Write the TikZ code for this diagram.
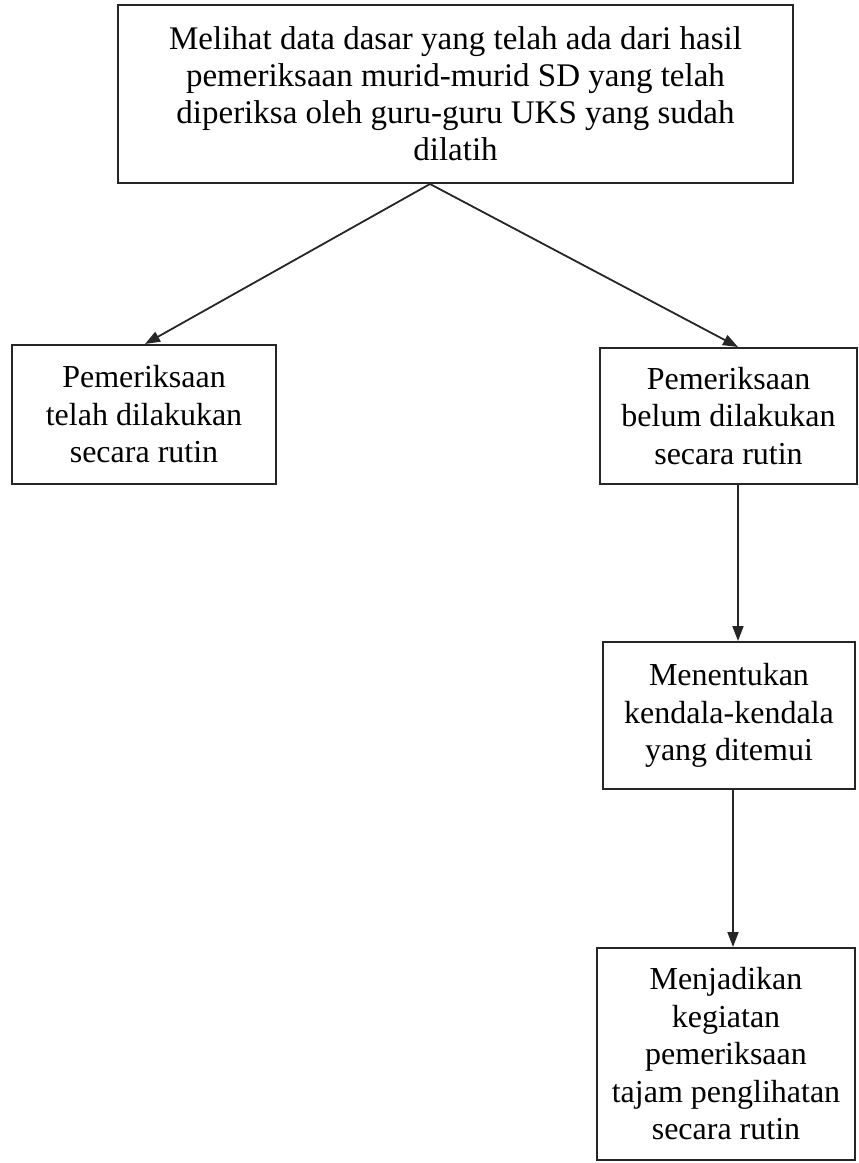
\documentclass[tikz,border=0pt]{standalone}
\usepackage{fontspec}
\setmainfont{Liberation Serif}
\usetikzlibrary{arrows.meta,calc}
\begin{document}
\begin{tikzpicture}[x=1pt,y=-1pt,
  box/.style={draw=black!85,line width=2pt,inner sep=0pt,align=center,
    font=\fontsize{32}{37.5}\selectfont},
  arr/.style={draw=black!85,line width=1.8pt,-{Triangle[length=15pt,width=11pt]}}]
\useasboundingbox (0,0) rectangle (859,1163);
\node[box,minimum width=675pt,minimum height=178pt,font=\fontsize{33}{37}\selectfont] (top) at (455.5,94)
  {Melihat data dasar yang telah ada dari hasil\\pemeriksaan murid-murid SD yang telah\\diperiksa oleh guru-guru UKS yang sudah\\dilatih};
\node[box,minimum width=264pt,minimum height=139pt] (l) at (144,414.5)
  {Pemeriksaan\\telah dilakukan\\secara rutin};
\node[box,minimum width=257pt,minimum height=136pt] (r1) at (728.5,416)
  {Pemeriksaan\\belum dilakukan\\secara rutin};
\node[box,minimum width=252pt,minimum height=147pt] (r2) at (729,715.5)
  {Menentukan\\kendala-kendala\\yang ditemui};
\node[box,minimum width=258pt,minimum height=212pt] (r3) at (726,1054)
  {Menjadikan\\kegiatan\\pemeriksaan\\tajam penglihatan\\secara rutin};
\coordinate (split) at ($(top.south)+(-25.5,0)$);
\draw[arr] (split) -- ($(l.north)+(1,0)$);
\draw[arr] (split) -- ($(r1.north)+(9.5,0)$);
\draw[arr] ($(r1.south)+(9.5,0)$) -- ($(r2.north)+(9,0)$);
\draw[arr] ($(r2.south)+(4,0)$) -- ($(r3.north)+(7,0)$);
\end{tikzpicture}
\end{document}
